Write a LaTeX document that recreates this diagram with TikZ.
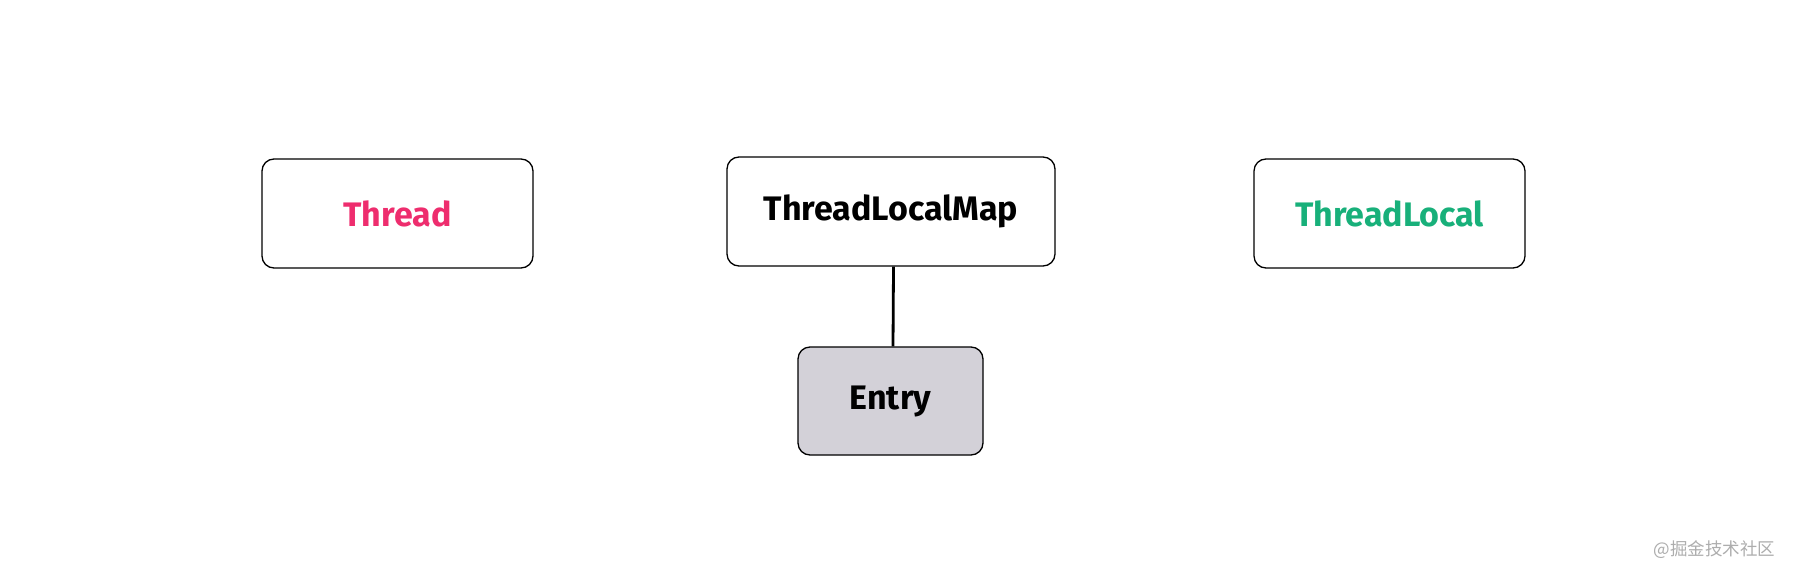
\documentclass[tikz,border=0pt]{standalone}
\usepackage{fontspec}
\setmainfont{Fira Sans}
\newfontfamily\cjk{Noto Sans CJK SC}
\usetikzlibrary{positioning}
\definecolor{threadpink}{HTML}{EE2D6E}
\definecolor{localgreen}{HTML}{18B07A}
\definecolor{entrygray}{HTML}{D3D1D8}
\begin{document}
\begin{tikzpicture}[x=1pt, y=-1pt]
    \tikzset{
        box/.style={draw, line width=1.3pt, fill=white, rectangle, rounded corners=12pt, minimum height=109pt, inner sep=0pt, font=\fontsize{34}{38}\selectfont\bfseries},
        entrybox/.style={box, fill=entrygray, minimum width=185pt, minimum height=108pt},
        line/.style={draw, line width=2.8pt}
    }
    \useasboundingbox[fill=white] (0,0) rectangle (1796,578);
    % Boxes
    \node[box, minimum width=271pt, text=threadpink] (thread) at (397.5,213.5) {Thread};
    \node[box, minimum width=328pt] (map) at (891,211.5) {ThreadLocalMap};
    \node[box, minimum width=271pt, text=localgreen] (local) at (1389.5,213.5) {ThreadLocal};
    \node[entrybox] (entry) at (890.5,401) {Entry};

    % Connection
    \path[line] ([xshift=2.5pt]map.south) -- ([xshift=2.5pt]entry.north);

    % Watermark
    \node[font=\cjk\fontsize{17.5}{20}\selectfont, text=black!32, anchor=east] (mark) at (1779,550) {@掘金技术社区};
\end{tikzpicture}
\end{document}
